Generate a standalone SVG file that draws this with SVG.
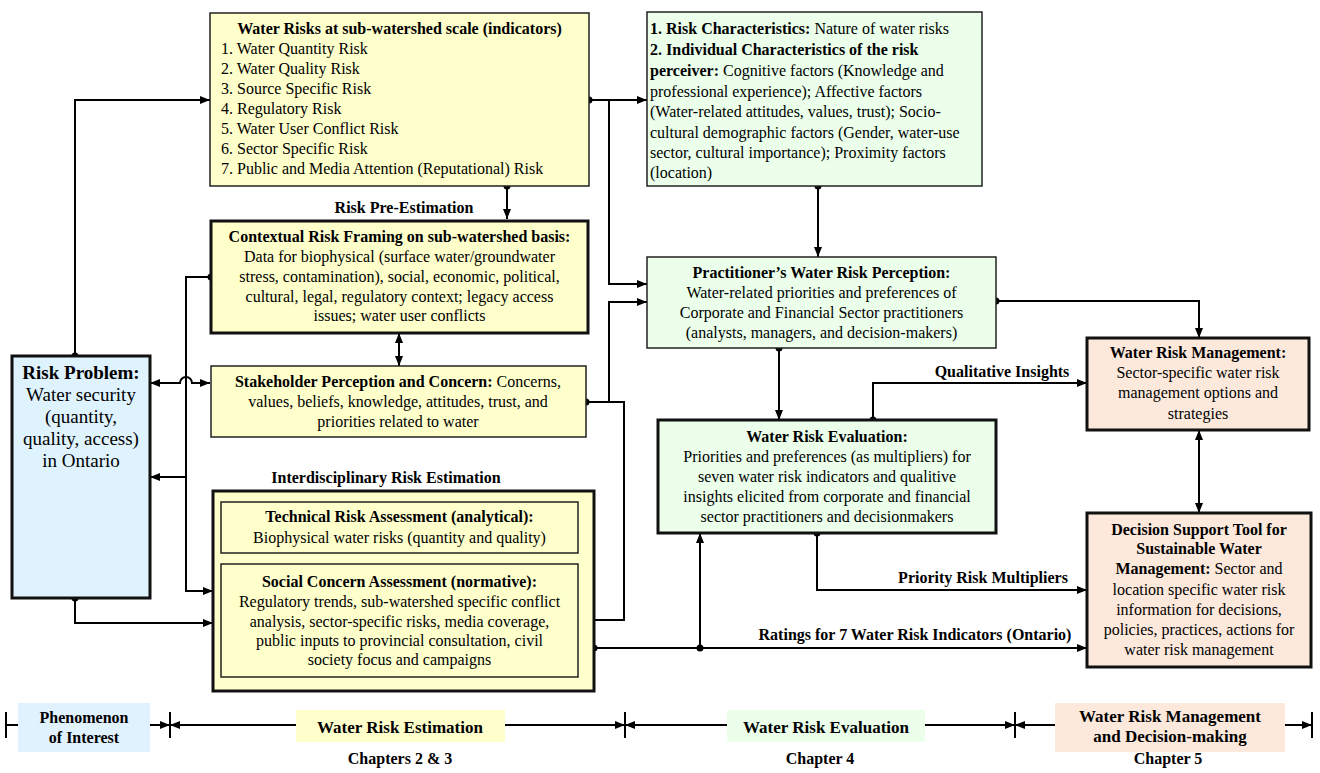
<svg xmlns="http://www.w3.org/2000/svg" width="1320" height="773" viewBox="0 0 1320 773" font-family="'Liberation Serif', 'DejaVu Serif', serif">
  <style>
    text { font-family: "Liberation Serif", "DejaVu Serif", serif; font-size: 16px; fill: #000; }
    .b { font-weight: bold; }
    .mid { text-anchor: middle; }
    .thin { stroke: #222; stroke-width: 1.5; }
    .thick { stroke: #111; stroke-width: 3; }
    .yel { fill: #FFFFCC; }
    .grn { fill: #EBFFEB; }
    .blu { fill: #DFF3FF; }
    .pch { fill: #FDE9DC; }
    .wire { fill: none; stroke: #000; stroke-width: 2; }
    .dot { fill: #000; }
    .big { font-size: 19px; }
    .leg { font-size: 17px; font-weight: bold; }
  </style>
  <defs>
    <marker id="ah" viewBox="0 0 10 10" refX="10" refY="5" markerWidth="10" markerHeight="10" markerUnits="userSpaceOnUse" orient="auto-start-reverse">
      <path d="M0,1 L10,5 L0,9 z" fill="#000"/>
    </marker>
  </defs>

  <rect width="1320" height="773" fill="#fff"/>

  <!-- connectors -->
  <g id="connectors">
    <path class="wire" d="M75,356 V100 H210" marker-end="url(#ah)"/>
    <path class="wire" d="M589,100 H647" marker-end="url(#ah)"/>
    <path class="wire" d="M609,100 V284 H647" marker-end="url(#ah)"/>
    <path class="wire" d="M507,186 V219" marker-end="url(#ah)"/>
    <path class="wire" d="M211,277 H186 V591 H213" marker-end="url(#ah)"/>
    <path class="wire" d="M186,477 H150" marker-end="url(#ah)"/>
    <path class="wire" d="M150,383 H180 A6,6 0 0 1 192,383 H210" marker-start="url(#ah)" marker-end="url(#ah)"/>
    <path class="wire" d="M399,333 V366" marker-start="url(#ah)" marker-end="url(#ah)"/>
    <path class="wire" d="M586,402 H609 V302 H647" marker-end="url(#ah)"/>
    <path class="wire" d="M609,402 H624 V620 H578" marker-end="url(#ah)"/>
    <path class="wire" d="M75,598 V623 H213" marker-end="url(#ah)"/>
    <path class="wire" d="M818,186 V257" marker-end="url(#ah)"/>
    <path class="wire" d="M779,348 V420" marker-end="url(#ah)"/>
    <path class="wire" d="M996,301 H1199 V338" marker-end="url(#ah)"/>
    <path class="wire" d="M873,420 V383 H1087" marker-end="url(#ah)"/>
    <path class="wire" d="M1199,430 V513" marker-start="url(#ah)" marker-end="url(#ah)"/>
    <path class="wire" d="M817,533 V590 H1087" marker-end="url(#ah)"/>
    <path class="wire" d="M594,648 H1087" marker-end="url(#ah)"/>
    <path class="wire" d="M700,648 V533" marker-end="url(#ah)"/>
    <circle class="dot" cx="75" cy="356" r="3.5"/>
    <circle class="dot" cx="589" cy="100" r="3.5"/>
    <circle class="dot" cx="507" cy="186" r="3.5"/>
    <circle class="dot" cx="211" cy="277" r="3.5"/>
    <circle class="dot" cx="586" cy="402" r="3.5"/>
    <circle class="dot" cx="75" cy="598" r="3.5"/>
    <circle class="dot" cx="818" cy="186" r="3.5"/>
    <circle class="dot" cx="779" cy="348" r="3.5"/>
    <circle class="dot" cx="996" cy="301" r="3.5"/>
    <circle class="dot" cx="873" cy="420" r="3.5"/>
    <circle class="dot" cx="817" cy="533" r="3.5"/>
    <circle class="dot" cx="594" cy="648" r="3.5"/>
    <circle class="dot" cx="700" cy="648" r="3.5"/>
    <text class="b mid" x="404" y="213">Risk Pre-Estimation</text>
    <text class="b mid" x="386" y="483">Interdisciplinary Risk Estimation</text>
    <text class="b mid" x="1002" y="377">Qualitative Insights</text>
    <text class="b mid" x="983" y="583">Priority Risk Multipliers</text>
    <text class="b mid" x="915" y="640">Ratings for 7 Water Risk Indicators (Ontario)</text>
  </g>

  <!-- nodes -->
  <g id="water-risks">
    <rect class="yel thin" x="210" y="13" width="379" height="173"/>
    <text class="b mid" x="399.5" y="34">Water Risks at sub-watershed scale (indicators)</text>
    <text x="221" y="54">1. Water Quantity Risk</text>
    <text x="221" y="74">2. Water Quality Risk</text>
    <text x="221" y="94">3. Source Specific Risk</text>
    <text x="221" y="114">4. Regulatory Risk</text>
    <text x="221" y="134">5. Water User Conflict Risk</text>
    <text x="221" y="154">6. Sector Specific Risk</text>
    <text x="221" y="174">7. Public and Media Attention (Reputational) Risk</text>
  </g>

  <g id="risk-characteristics">
    <rect class="grn thin" x="647" y="12" width="335" height="174"/>
    <text x="650" y="34"><tspan class="b">1. Risk Characteristics:</tspan> Nature of water risks</text>
    <text class="b" x="650" y="55">2. Individual Characteristics of the risk</text>
    <text x="650" y="76"><tspan class="b">perceiver:</tspan> Cognitive factors (Knowledge and</text>
    <text x="650" y="97">professional experience); Affective factors</text>
    <text x="650" y="117">(Water-related attitudes, values, trust); Socio-</text>
    <text x="650" y="138">cultural demographic factors (Gender, water-use</text>
    <text x="650" y="158">sector, cultural importance); Proximity factors</text>
    <text x="650" y="178">(location)</text>
  </g>

  <g id="contextual-framing">
    <rect class="yel thick" x="211" y="221" width="377" height="112"/>
    <text class="b mid" x="399.5" y="242">Contextual Risk Framing on sub-watershed basis:</text>
    <text class="mid" x="399.5" y="262">Data for biophysical (surface water/groundwater</text>
    <text class="mid" x="399.5" y="282">stress, contamination), social, economic, political,</text>
    <text class="mid" x="399.5" y="302">cultural, legal, regulatory context; legacy access</text>
    <text class="mid" x="399.5" y="321">issues; water user conflicts</text>
  </g>

  <g id="stakeholder">
    <rect class="yel thin" x="211" y="366" width="375" height="71"/>
    <text class="mid" x="398" y="387"><tspan class="b">Stakeholder Perception and Concern:</tspan> Concerns,</text>
    <text class="mid" x="398" y="407">values, beliefs, knowledge, attitudes, trust, and</text>
    <text class="mid" x="398" y="427">priorities related to water</text>
  </g>

  <g id="risk-problem">
    <rect class="blu thick" x="12" y="356" width="138" height="242"/>
    <text class="b mid big" x="81" y="379">Risk Problem:</text>
    <text class="mid big" x="81" y="401">Water security</text>
    <text class="mid big" x="81" y="423">(quantity,</text>
    <text class="mid big" x="81" y="445">quality, access)</text>
    <text class="mid big" x="81" y="467">in Ontario</text>
  </g>

  <g id="interdisciplinary">
    <rect class="yel thick" x="213" y="491" width="381" height="200"/>
    <rect class="yel thin" x="221" y="502" width="357" height="51"/>
    <text class="b mid" x="399.5" y="522">Technical Risk Assessment (analytical):</text>
    <text class="mid" x="399.5" y="543">Biophysical water risks (quantity and quality)</text>
    <rect class="yel thin" x="221" y="564" width="357" height="113"/>
    <text class="b mid" x="399.5" y="587">Social Concern Assessment (normative):</text>
    <text class="mid" x="399.5" y="607">Regulatory trends, sub-watershed specific conflict</text>
    <text class="mid" x="399.5" y="627">analysis, sector-specific risks, media coverage,</text>
    <text class="mid" x="399.5" y="646">public inputs to provincial consultation, civil</text>
    <text class="mid" x="399.5" y="665">society focus and campaigns</text>
  </g>

  <g id="practitioner-perception">
    <rect class="grn thin" x="647" y="257" width="349" height="91"/>
    <text class="b mid" x="821.5" y="278">Practitioner’s Water Risk Perception:</text>
    <text class="mid" x="821.5" y="298">Water-related priorities and preferences of</text>
    <text class="mid" x="821.5" y="318">Corporate and Financial Sector practitioners</text>
    <text class="mid" x="821.5" y="338">(analysts, managers, and decision-makers)</text>
  </g>

  <g id="risk-evaluation">
    <rect class="grn thick" x="658" y="420" width="338" height="113"/>
    <text class="b mid" x="827" y="442">Water Risk Evaluation:</text>
    <text class="mid" x="827" y="462">Priorities and preferences (as multipliers) for</text>
    <text class="mid" x="827" y="482">seven water risk indicators and qualitive</text>
    <text class="mid" x="827" y="502">insights elicited from corporate and financial</text>
    <text class="mid" x="827" y="522">sector practitioners and decisionmakers</text>
  </g>

  <g id="risk-management">
    <rect class="pch thick" x="1087" y="338" width="222" height="92"/>
    <text class="b mid" x="1198" y="358">Water Risk Management:</text>
    <text class="mid" x="1198" y="378">Sector-specific water risk</text>
    <text class="mid" x="1198" y="398">management options and</text>
    <text class="mid" x="1198" y="419">strategies</text>
  </g>

  <g id="decision-support">
    <rect class="pch thick" x="1087" y="513" width="224" height="154"/>
    <text class="b mid" x="1199" y="535">Decision Support Tool for</text>
    <text class="b mid" x="1199" y="554">Sustainable Water</text>
    <text class="mid" x="1199" y="574"><tspan class="b">Management:</tspan> Sector and</text>
    <text class="mid" x="1199" y="595">location specific water risk</text>
    <text class="mid" x="1199" y="615">information for decisions,</text>
    <text class="mid" x="1199" y="635">policies, practices, actions for</text>
    <text class="mid" x="1199" y="655">water risk management</text>
  </g>

  <!-- chapter scale along the bottom -->
  <g id="chapter-scale">
    <path class="wire" d="M6,712 V738 M6,725 H18"/>
    <path class="wire" d="M150,725 H170" marker-end="url(#ah)"/>
    <path class="wire" d="M170,712 V738"/>
    <path class="wire" d="M296,725 H170" marker-end="url(#ah)"/>
    <path class="wire" d="M505,725 H625" marker-end="url(#ah)"/>
    <path class="wire" d="M625,712 V738"/>
    <path class="wire" d="M727,725 H625" marker-end="url(#ah)"/>
    <path class="wire" d="M925,725 H1015" marker-end="url(#ah)"/>
    <path class="wire" d="M1015,712 V738"/>
    <path class="wire" d="M1055,725 H1015" marker-end="url(#ah)"/>
    <path class="wire" d="M1285,725 H1312" marker-end="url(#ah)"/>
    <path class="wire" d="M1312,712 V738"/>
    <rect fill="#E1F2FF" x="18" y="703" width="132" height="49"/>
    <text class="b mid" x="84" y="723" font-size="15">Phenomenon</text>
    <text class="b mid" x="84" y="743" font-size="15">of Interest</text>
    <rect fill="#FFFFCC" x="296" y="710" width="209" height="32"/>
    <text class="leg mid" x="400" y="733">Water Risk Estimation</text>
    <text class="b mid" x="400" y="764">Chapters 2 &amp; 3</text>
    <rect fill="#EBFFEB" x="727" y="710" width="198" height="32"/>
    <text class="leg mid" x="826" y="733">Water Risk Evaluation</text>
    <text class="b mid" x="820" y="764">Chapter 4</text>
    <rect fill="#FDE9DC" x="1055" y="703" width="230" height="49"/>
    <text class="leg mid" x="1170" y="722">Water Risk Management</text>
    <text class="leg mid" x="1170" y="742">and Decision-making</text>
    <text class="b mid" x="1168" y="764">Chapter 5</text>
  </g>
</svg>
